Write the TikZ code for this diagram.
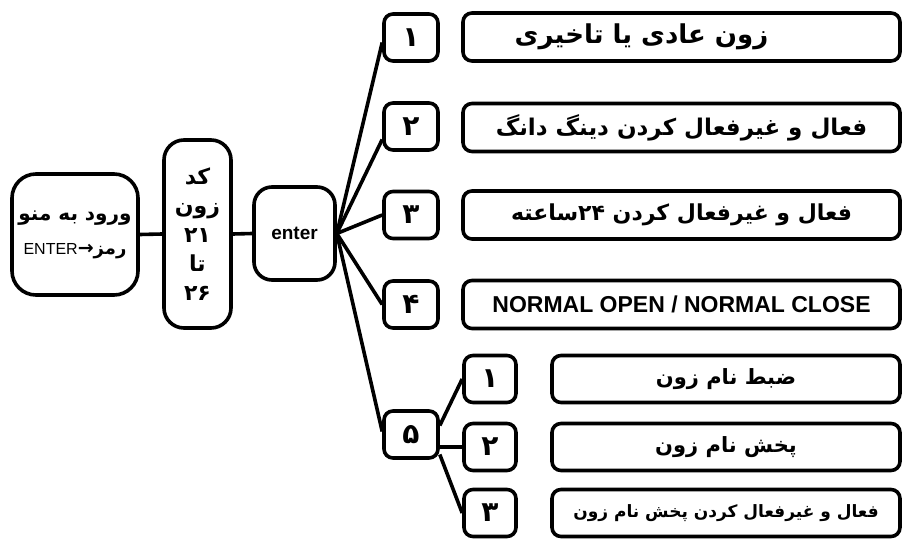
\documentclass[tikz,border=0pt]{standalone}
\usepackage{fontspec}
\setmainfont{Liberation Sans}
\newfontfamily\fa[Script=Arabic]{DejaVu Sans}
\newfontfamily\dv{DejaVu Sans}
\TeXXeTstate=1
\newcommand\RL[1]{{\fa\bfseries\beginR #1\endR}}
\begin{document}
\begin{tikzpicture}[x=1pt,y=-1pt,
  bx/.style={draw, line width=3.6pt, rounded corners=9pt, inner sep=0pt, align=center,
    font=\fontsize{22}{28}\selectfont},
  numbox/.style={bx, minimum width=54pt, minimum height=47pt, font=\fontsize{28}{30}\selectfont},
  widebox/.style={bx, minimum width=437pt, minimum height=48pt},
  subnum/.style={bx, minimum width=52pt, minimum height=47pt, font=\fontsize{28}{30}\selectfont},
  subwide/.style={bx, minimum width=348pt, minimum height=47pt},
  ln/.style={line width=3.6pt}]
\useasboundingbox (0,0) rectangle (902,538);

% left chain
\node[bx, rounded corners=24pt, minimum width=126pt, minimum height=121pt,
  font=\fontsize{20}{24}\selectfont] (menu) at (75,234.5)
  {\RL{ورود به منو}\\[10pt]{\fontsize{16}{18}\selectfont ENTER{\fontsize{19}{18}\dv\bfseries →}{\fontsize{18}{18}\fa\bfseries\beginR رمز\endR}}};
\node[bx, rounded corners=20pt, minimum width=67pt, minimum height=188pt,
  font=\fontsize{22}{29}\selectfont] (code) at (197.5,234)
  {\RL{کد}\\\RL{زون}\\\RL{۲۱}\\\RL{تا}\\\RL{۲۶}};
\node[bx, rounded corners=18pt, minimum width=81pt, minimum height=93pt,
  font=\fontsize{19}{22}\selectfont\bfseries] (enter) at (294.5,233.5) {enter};

% numbered boxes
\node[numbox] (n1) at (411,37.5) {\RL{۱}};
\node[numbox] (n2) at (411,126.5) {\RL{۲}};
\node[numbox] (n3) at (411,215) {\RL{۳}};
\node[numbox] (n4) at (411,304.5) {\RL{۴}};
\node[numbox] (n5) at (411,434.5) {\RL{۵}};

% wide boxes
\node[widebox, font=\fontsize{26}{28}\selectfont] (w1) at (681.5,37) {\RL{زون عادی یا تاخیری}\hspace{80pt}};
\node[widebox, font=\fontsize{23}{28}\selectfont] (w2) at (681.5,127.5) {\RL{فعال و غیرفعال کردن دینگ دانگ}};
\node[widebox, font=\fontsize{22}{28}\selectfont] (w3) at (681.5,215) {\RL{فعال و غیرفعال کردن ۲۴ساعته}};
\node[widebox, font=\fontsize{23}{26}\selectfont\bfseries] (w4) at (681.5,304.5) {NORMAL OPEN / NORMAL CLOSE};

% sub boxes
\node[subnum] (s1) at (490,379) {\RL{۱}};
\node[subnum] (s2) at (490,447) {\RL{۲}};
\node[subnum] (s3) at (490,513) {\RL{۳}};
\node[subwide, font=\fontsize{21}{24}\selectfont] (t1) at (726,379) {\RL{ضبط نام زون}};
\node[subwide, font=\fontsize{21}{24}\selectfont] (t2) at (726,447) {\RL{پخش نام زون}};
\node[subwide, font=\fontsize{17}{20}\selectfont] (t3) at (726,513) {\RL{فعال و غیرفعال کردن پخش نام زون}};

% connectors
\draw[ln] (menu.east) -- (code.west);
\draw[ln] (code.west -| code.east) -- (enter.west);
\draw[ln] (enter.east) -- ([yshift=-5pt]n1.west);
\draw[ln] (enter.east) -- ([yshift=-13pt]n2.west);
\draw[ln] (enter.east) -- (n3.west);
\draw[ln] (enter.east) -- (n4.west);
\draw[ln] (enter.east) -- ([yshift=3pt]n5.west);
\draw[ln] ([yshift=9pt]n5.east) -- (s1.west);
\draw[ln] (s2.west -| n5.east) -- (s2.west);
\draw[ln] ([yshift=-20pt]n5.east) -- (s3.west);
\end{tikzpicture}
\end{document}
